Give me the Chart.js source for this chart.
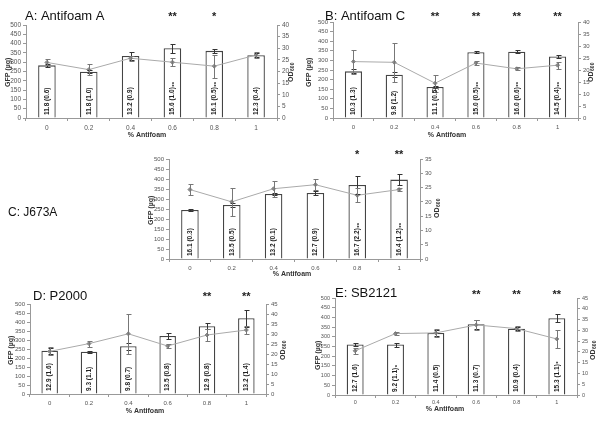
<!DOCTYPE html>
<html>
<head>
<meta charset="utf-8">
<script src="https://cdn.jsdelivr.net/npm/chart.js@4"></script>
<style>
  body { margin: 0; background: #fff; }
  #fig { position: relative; width: 600px; height: 423px; overflow: hidden; }
  #fig canvas { position: absolute; }
</style>
</head>
<body>
<div id="fig">
  <canvas id="panelA" width="300" height="140" style="left:0;top:0"></canvas>
  <canvas id="panelB" width="300" height="140" style="left:300px;top:0"></canvas>
  <canvas id="panelC" width="450" height="140" style="left:0;top:140px"></canvas>
  <canvas id="panelD" width="300" height="143" style="left:0;top:280px"></canvas>
  <canvas id="panelE" width="300" height="143" style="left:300px;top:280px"></canvas>
</div>
<script>
const doses = ['0', '0.2', '0.4', '0.6', '0.8', '1'];

// A: Antifoam A
const gfpA = [283, 249, 334, 375, 361, 338];
const gfpErrA = [10, 8, 22, 23, 12, 10];
const odA = [23.9, 20.8, 25.7, 24.0, 22.3, 27.1];
const odErrA = [1.3, 2.5, 1.0, 1.8, 5.0, 1.2];
const barTextA = ['11.8 (0.6)', '11.8 (1.0)', '13.2 (0.9)', '15.6 (1.0)**', '16.1 (0.5)**', '12.3 (0.4)'];
const starsA = ['', '', '', '**', '*', ''];

// B: Antifoam C
const gfpB = [243, 225, 162, 343, 345, 320];
const gfpErrB = [10, 12, 3, 7, 7, 10];
const odB = [23.5, 23.2, 14.5, 22.9, 20.5, 22.0];
const odErrB = [5.0, 8.0, 3.5, 0.7, 0.7, 1.5];
const barTextB = ['10.3 (1.3)', '9.8 (1.2)', '11.1 (0.5)', '15.0 (0.5)**', '16.0 (0.6)**', '14.5 (0.4)**'];
const starsB = ['', '', '**', '**', '**', '**'];

// C: J673A
const gfpC = [245, 270, 325, 330, 370, 397];
const gfpErrC = [5, 12, 5, 12, 45, 28];
const odC = [24.3, 20.0, 24.6, 26.0, 22.3, 24.3];
const odErrC = [2.0, 5.0, 2.8, 2.0, 2.5, 0.5];
const barTextC = ['16.1 (0.3)', '13.5 (0.5)', '13.2 (0.1)', '12.7 (0.9)', '16.7 (2.2)**', '16.4 (1.2)**'];
const starsC = ['', '', '', '', '*', '**'];

// D: P2000
const gfpD = [240, 235, 265, 322, 377, 421];
const gfpErrD = [15, 5, 20, 15, 17, 47];
const odD = [21.3, 25.2, 30.1, 24.0, 29.5, 32.0];
const odErrD = [2.0, 1.5, 10.0, 1.0, 3.0, 2.0];
const barTextD = ['12.9 (1.6)', '9.3 (1.1)', '9.8 (0.7)', '13.5 (0.8)', '12.9 (0.8)', '13.2 (1.4)'];
const starsD = ['', '', '', '', '**', '**'];

// E: SB2121
const gfpE = [260, 260, 320, 365, 342, 396];
const gfpErrE = [8, 10, 15, 24, 8, 22];
const odE = [20.5, 28.5, 28.8, 32.5, 30.8, 26.0];
const odErrE = [1.5, 0.8, 2.0, 2.5, 1.0, 4.0];
const barTextE = ['12.7 (1.6)', '9.2 (1.1)*', '11.4 (0.5)', '11.3 (0.7)', '10.9 (0.4)', '15.3 (1.1)*'];
const starsE = ['', '', '', '**', '**', '**'];

const FONT = "'Liberation Sans', Arial, sans-serif";

// page-coordinate layout of each panel
const panels = [
  { id: 'panelA', title: 'A: Antifoam A', gfp: gfpA, gfpErr: gfpErrA, od: odA, odErr: odErrA, odMax: 40,
    barText: barTextA, stars: starsA, tick: 6.5, xPad: 3,
    box: { left: 0, top: 0, w: 300, h: 140 }, plot: { left: 26, right: 277, top: 25, bottom: 118 },
    titleAt: [25, 16], titleSize: 13, starY: 15, gfpAt: [8, 72], odAt: [291, 72], xAt: [147, 135] },
  { id: 'panelB', title: 'B: Antifoam C', gfp: gfpB, gfpErr: gfpErrB, od: odB, odErr: odErrB, odMax: 40,
    barText: barTextB, stars: starsB, tick: 6, xPad: 3,
    box: { left: 300, top: 0, w: 300, h: 140 }, plot: { left: 333, right: 578, top: 22, bottom: 118 },
    titleAt: [325, 16], titleSize: 13, starY: 15, gfpAt: [309, 72], odAt: [591, 72], xAt: [447, 135] },
  { id: 'panelC', title: 'C: J673A', gfp: gfpC, gfpErr: gfpErrC, od: odC, odErr: odErrC, odMax: 35,
    barText: barTextC, stars: starsC, tick: 6, xPad: 3,
    box: { left: 0, top: 140, w: 450, h: 140 }, plot: { left: 169, right: 420, top: 159, bottom: 259 },
    titleAt: [8, 213], titleSize: 12, starY: 153, gfpAt: [151, 210], odAt: [437, 208], xAt: [292, 274] },
  { id: 'panelD', title: 'D: P2000', gfp: gfpD, gfpErr: gfpErrD, od: odD, odErr: odErrD, odMax: 45,
    barText: barTextD, stars: starsD, tick: 6, xPad: 3,
    box: { left: 0, top: 280, w: 300, h: 143 }, plot: { left: 30, right: 266, top: 304, bottom: 394 },
    titleAt: [33, 296], titleSize: 13, starY: 295, gfpAt: [11, 350], odAt: [283, 350], xAt: [145, 411] },
  { id: 'panelE', title: 'E: SB2121', gfp: gfpE, gfpErr: gfpErrE, od: odE, odErr: odErrE, odMax: 45,
    barText: barTextE, stars: starsE, tick: 5.5, xPad: 1,
    box: { left: 300, top: 280, w: 300, h: 143 }, plot: { left: 335, right: 577, top: 298, bottom: 395 },
    titleAt: [335, 293], titleSize: 13, starY: 293, gfpAt: [318, 355], odAt: [593, 350], xAt: [445, 409] }
];

function drawErrors(chart, dsIndex, errs, scaleId, color) {
  const ctx = chart.ctx;
  const meta = chart.getDatasetMeta(dsIndex);
  const scale = chart.scales[scaleId];
  const values = chart.data.datasets[dsIndex].data;
  ctx.save();
  ctx.strokeStyle = color;
  ctx.lineWidth = 1;
  meta.data.forEach((el, i) => {
    const x = Math.round(el.x) + 0.5;
    const top = Math.round(scale.getPixelForValue(values[i] + errs[i])) + 0.5;
    const bot = Math.round(scale.getPixelForValue(values[i] - errs[i])) + 0.5;
    ctx.beginPath();
    ctx.moveTo(x, top); ctx.lineTo(x, bot);
    ctx.moveTo(x - 2, top); ctx.lineTo(x + 3, top);
    ctx.moveTo(x - 2, bot); ctx.lineTo(x + 3, bot);
    ctx.stroke();
  });
  ctx.restore();
}

function rotatedText(ctx, x, y, parts) {
  // parts: [text, size, bold, shift] drawn one after another, reading bottom to top
  ctx.save();
  ctx.translate(x, y);
  ctx.rotate(-Math.PI / 2);
  ctx.textBaseline = 'middle';
  ctx.textAlign = 'left';
  let off = 0;
  parts.forEach(([t, size, bold, shift]) => {
    ctx.font = (bold ? 'bold ' : '') + size + 'px ' + FONT;
    ctx.fillText(t, off, shift || 0);
    off += ctx.measureText(t).width + 0.5;
  });
  ctx.restore();
  return off;
}

function rotatedCentered(ctx, cx, cy, parts) {
  let w = 0;
  parts.forEach(([t, size, bold]) => {
    ctx.font = (bold ? 'bold ' : '') + size + 'px ' + FONT;
    w += ctx.measureText(t).width + 0.5;
  });
  rotatedText(ctx, cx, cy + w / 2, parts);
}

function makePanel(p) {
  const bx = p.box.left, by = p.box.top;
  const leftW = p.plot.left - bx;
  const rightW = bx + p.box.w - p.plot.right;
  const xH = by + p.box.h - p.plot.bottom;

  const deco = {
    id: 'deco_' + p.id,
    afterDatasetsDraw(chart) {
      const ctx = chart.ctx;
      const y = chart.scales.y;
      const barMeta = chart.getDatasetMeta(1);

      drawErrors(chart, 1, p.gfpErr, 'y', '#333');
      drawErrors(chart, 0, p.odErr, 'y1', '#777');

      // labels inside bars
      ctx.fillStyle = '#222';
      barMeta.data.forEach((el, i) => {
        const m = p.barText[i].match(/^(.*?)(\**)$/);
        const parts = [[m[1], 6.5, true, 0]];
        if (m[2]) parts.push([m[2], 6, true, 2]);
        rotatedText(ctx, el.x, y.getPixelForValue(0) - 3, parts);
      });

      // significance stars above the panel
      ctx.save();
      ctx.fillStyle = '#222';
      ctx.font = 'bold 11px ' + FONT;
      ctx.textAlign = 'center';
      ctx.textBaseline = 'middle';
      barMeta.data.forEach((el, i) => {
        if (p.stars[i]) ctx.fillText(p.stars[i], el.x, p.starY - by + 2);
      });
      ctx.restore();

      // panel title
      ctx.save();
      ctx.fillStyle = '#111';
      ctx.font = p.titleSize + 'px ' + FONT;
      ctx.textBaseline = 'middle';
      ctx.fillText(p.title, p.titleAt[0] - bx, p.titleAt[1] - by);

      // axis titles
      ctx.fillStyle = '#333';
      rotatedCentered(ctx, p.gfpAt[0] - bx, p.gfpAt[1] - by, [['GFP (\u00b5g)', 7, true, 0]]);
      rotatedCentered(ctx, p.odAt[0] - bx, p.odAt[1] - by, [['OD', 7, true, 0], ['600', 5, true, 2]]);
      ctx.font = 'bold 7px ' + FONT;
      ctx.textAlign = 'center';
      ctx.textBaseline = 'middle';
      ctx.fillText('% Antifoam', p.xAt[0] - bx, p.xAt[1] - by);
      ctx.restore();
    }
  };

  const tickFont = { family: FONT, size: p.tick };
  const axisGrid = { display: true, drawOnChartArea: false, drawTicks: true, tickLength: 3, color: '#999' };

  new Chart(document.getElementById(p.id), {
    type: 'bar',
    data: {
      labels: doses,
      datasets: [
        {
          type: 'line',
          data: p.od,
          yAxisID: 'y1',
          order: 0,
          borderColor: '#aaa',
          borderWidth: 1,
          pointStyle: 'rectRot',
          pointRadius: 2,
          pointBackgroundColor: '#888',
          pointBorderColor: '#888',
          tension: 0
        },
        {
          type: 'bar',
          data: p.gfp,
          yAxisID: 'y',
          order: 1,
          backgroundColor: '#fff',
          borderColor: '#444',
          borderWidth: 1.3,
          categoryPercentage: 1,
          barPercentage: 0.42
        }
      ]
    },
    options: {
      responsive: false,
      animation: false,
      events: [],
      layout: { padding: { top: p.plot.top - by, left: 0, right: 0, bottom: 0 } },
      plugins: { legend: { display: false }, tooltip: { enabled: false } },
      scales: {
        x: {
          grid: Object.assign({}, axisGrid, { offset: true }),
          border: { display: true, color: '#999' },
          ticks: { font: tickFont, color: '#555', padding: p.xPad, maxRotation: 0 },
          afterFit: s => { s.height = xH; }
        },
        y: {
          position: 'left',
          min: 0, max: 500,
          grid: axisGrid,
          border: { display: true, color: '#999' },
          ticks: { stepSize: 50, font: tickFont, color: '#555', padding: 2, autoSkip: false },
          afterFit: s => { s.width = leftW; }
        },
        y1: {
          position: 'right',
          min: 0, max: p.odMax,
          grid: axisGrid,
          border: { display: true, color: '#999' },
          ticks: { stepSize: 5, font: tickFont, color: '#555', padding: 2, autoSkip: false },
          afterFit: s => { s.width = rightW; }
        }
      }
    },
    plugins: [deco]
  });
}

panels.forEach(makePanel);
</script>
</body>
</html>
